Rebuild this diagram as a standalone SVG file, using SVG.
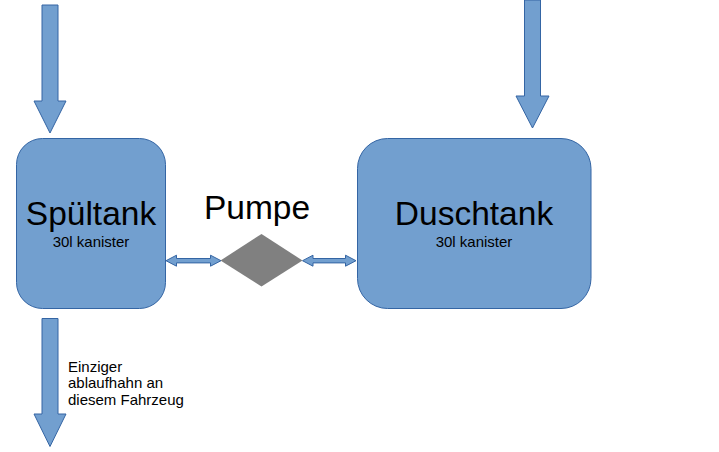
<svg xmlns="http://www.w3.org/2000/svg" width="719" height="452" viewBox="0 0 719 452">
<style>
.blk{fill:#729fcf;stroke:#3465a4;stroke-width:1}
.big{font-family:"Liberation Sans",Arial,sans-serif;font-size:33.5px;fill:#000;text-anchor:middle}
.sm{font-family:"Liberation Sans",Arial,sans-serif;font-size:15px;fill:#000}
</style>
<rect width="719" height="452" fill="#fff"/>
<g id="connectors">
<path class="blk" d="M42,5 H58 V101 H66 L50,133 L34,101 H42 Z"/>
<path class="blk" d="M524.5,0 H540.5 V96 H549 L532.5,128 L516,96 H524.5 Z"/>
<path class="blk" d="M42,318.5 H58 V414 H66 L50,446.5 L34,414 H42 Z"/>
<path class="blk" d="M166,260.7 L176.5,255.2 V258.5 H210.5 V255.2 L221,260.7 L210.5,266.2 V262.9 H176.5 V266.2 Z"/>
<path class="blk" d="M302.5,260.7 L313,255.2 V258.5 H345.5 V255.2 L356,260.7 L345.5,266.2 V262.9 H313 V266.2 Z"/>
</g>
<g id="spueltank">
<rect class="blk" x="16.5" y="138.5" width="149" height="170" rx="26" ry="26"/>
<text class="big" x="91" y="224.5">Spültank</text>
<text class="sm" x="91" y="247" text-anchor="middle">30l kanister</text>
</g>
<g id="duschtank">
<rect class="blk" x="357.5" y="138.5" width="233.5" height="170" rx="30" ry="30"/>
<text class="big" x="474" y="224.5">Duschtank</text>
<text class="sm" x="474" y="247" text-anchor="middle">30l kanister</text>
</g>
<g id="pumpe">
<path d="M261.5,234 L302.5,260.5 L261.5,286.5 L220.5,260.5 Z" fill="#808080"/>
<text class="big" x="257" y="218.5">Pumpe</text>
</g>
<g id="abfluss-label">
<text class="sm" x="68" y="372">Einziger</text>
<text class="sm" x="68" y="388.3">ablaufhahn an</text>
<text class="sm" x="68" y="404.6">diesem Fahrzeug</text>
</g>
</svg>
